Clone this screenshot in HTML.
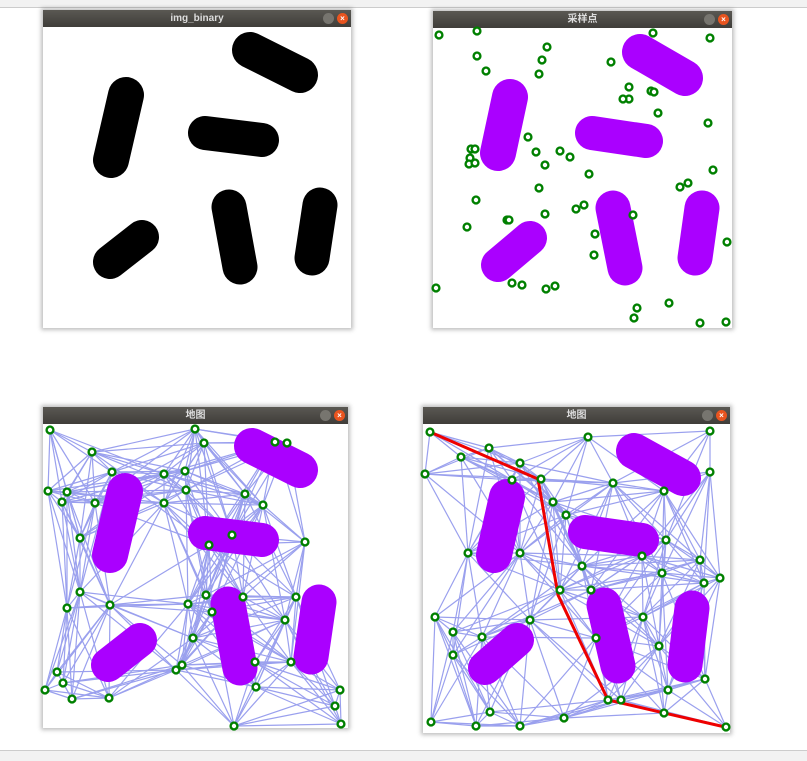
<!DOCTYPE html>
<html><head><meta charset="utf-8"><style>
body{margin:0;width:807px;height:760px;background:#fff;overflow:hidden;position:relative;font-family:"Liberation Sans","Noto Sans CJK SC",sans-serif}
.topbar{position:absolute;left:0;top:0;width:807px;height:7px;background:#f2f2f2;border-bottom:1px solid #ccc}
.botbar{position:absolute;left:0;top:750px;width:807px;height:10px;background:#f2f2f2;border-top:1px solid #ccc}
.win{position:absolute;box-shadow:0 0 4px 2px rgba(0,0,0,0.25);background:#fff}
.title{position:absolute;left:0;top:0;right:0;height:17px;background:linear-gradient(#5a5853,#3f3d39);color:#ddd;font-size:10px;text-align:center;line-height:17px;font-weight:bold}
.mn{position:absolute;top:3px;width:11px;height:11px;border-radius:50%;background:#77756f}
.cl{position:absolute;top:3px;width:11px;height:11px;border-radius:50%;background:#e9541f;color:#fff;font-size:8px;line-height:11px;text-align:center}
svg{position:absolute;left:0;top:0}
</style></head><body>
<div class="topbar"></div>
<div class="botbar"></div>

<div class="win" style="left:43px;top:10px;width:308px;height:318px">
<div class="title">img_binary<span class="mn" style="right:17px"></span><span class="cl" style="right:3px">×</span></div></div>
<div class="win" style="left:433px;top:11px;width:299px;height:317px">
<div class="title">采样点<span class="mn" style="right:17px"></span><span class="cl" style="right:3px">×</span></div></div>
<div class="win" style="left:43px;top:407px;width:305px;height:321px">
<div class="title">地图<span class="mn" style="right:17px"></span><span class="cl" style="right:3px">×</span></div></div>
<div class="win" style="left:423px;top:407px;width:307px;height:326px">
<div class="title">地图<span class="mn" style="right:17px"></span><span class="cl" style="right:3px">×</span></div></div>

<svg id="s" width="807" height="760"></svg>
<script>
const caps1=[[250,50,300,75,36],[126,95,111,160,36],[205,133,262,140,34],[110,262,142,237,34],[229,207,240,267,35],[320,205,312,258,35]];
const caps2=[[640,52,685,78,36],[510,97,498,153,36],[592,133,646,141,34],[498,265,530,238,34],[613,208,625,268,35],[702,208,695,258,35]];
const caps3=[[252,446,300,470,36],[125,491,110,555,36],[205,533,262,540,34],[108,665,140,640,34],[228,604,240,668,35],[319,602,311,657,35]];
const caps4=[[634,451,683,478,36],[507,497,494,555,36],[585,532,642,540,34],[485,668,517,640,34],[604,605,618,666,35],[692,608,685,665,35]];
const samples=[[439,35],[477,31],[477,56],[486,71],[547,47],[542,60],[539,74],[611,62],[653,33],[710,38],[629,87],[629,99],[651,91],[654,92],[623,99],[658,113],[708,123],[528,137],[536,152],[560,151],[570,157],[545,165],[471,149],[475,149],[470,158],[469,164],[475,163],[589,174],[713,170],[680,187],[688,183],[539,188],[476,200],[633,215],[545,214],[576,209],[584,205],[467,227],[507,220],[509,220],[595,234],[594,255],[436,288],[512,283],[522,285],[546,289],[555,286],[637,308],[634,318],[669,303],[700,323],[726,322],[727,242]];
const nodes3=[[50,430],[195,429],[92,452],[204,443],[112,472],[164,474],[48,491],[67,492],[62,502],[95,503],[164,503],[186,490],[185,471],[245,494],[263,505],[232,535],[209,545],[80,538],[305,542],[275,442],[287,443],[80,592],[67,608],[110,605],[188,604],[206,595],[243,597],[193,638],[176,670],[57,672],[63,683],[45,690],[72,699],[109,698],[182,665],[255,662],[296,597],[285,620],[291,662],[256,687],[335,706],[341,724],[234,726],[340,690],[212,612]];
const nodes4=[[430,432],[588,437],[489,448],[461,457],[520,463],[425,474],[541,479],[512,480],[553,502],[566,515],[613,483],[664,491],[710,431],[710,472],[666,540],[468,553],[520,553],[582,566],[642,556],[700,560],[720,578],[704,583],[662,573],[560,590],[591,590],[435,617],[453,632],[530,620],[482,637],[453,655],[596,638],[643,617],[659,646],[490,712],[476,726],[431,722],[520,726],[564,718],[621,700],[664,713],[668,690],[705,679],[726,727],[608,700]];
const path4=[[430,432],[538,479],[558,595],[608,700],[725,727]];
const maxLink=[125,125];
const S=document.getElementById('s');const NS='http://www.w3.org/2000/svg';
function mk(t,a){const e=document.createElementNS(NS,t);for(const k in a)e.setAttribute(k,a[k]);S.appendChild(e);return e;}
function capsules(list,color,name){list.forEach(c=>{const e=mk('line',{x1:c[0],y1:c[1],x2:c[2],y2:c[3],stroke:color,'stroke-width':c[4],'stroke-linecap':'round'});

});}
function graph(nodes,lim){for(let i=0;i<nodes.length;i++)for(let j=i+1;j<nodes.length;j++){const dx=nodes[i][0]-nodes[j][0],dy=nodes[i][1]-nodes[j][1];if(dx*dx+dy*dy<lim*lim){const e=mk('line',{x1:nodes[i][0],y1:nodes[i][1],x2:nodes[j][0],y2:nodes[j][1],stroke:'#9aa0ee','stroke-width':1.2});

}}}
function dots(list){list.forEach(p=>{const e=mk('circle',{cx:p[0],cy:p[1],r:3.4,fill:'#fff',stroke:'#008000','stroke-width':2.4});

});}
capsules(caps1,'#000','obstacle');
capsules(caps2,'#aa00ff','obstacle');
dots(samples);
graph(nodes3,maxLink[0]);
capsules(caps3,'#aa00ff','obstacle');
dots(nodes3);
graph(nodes4,maxLink[1]);
capsules(caps4,'#aa00ff','obstacle');
const pl=mk('polyline',{points:path4.map(p=>p.join(',')).join(' '),fill:'none',stroke:'#ee0000','stroke-width':3});


dots(nodes4);
</script>
</body></html>
